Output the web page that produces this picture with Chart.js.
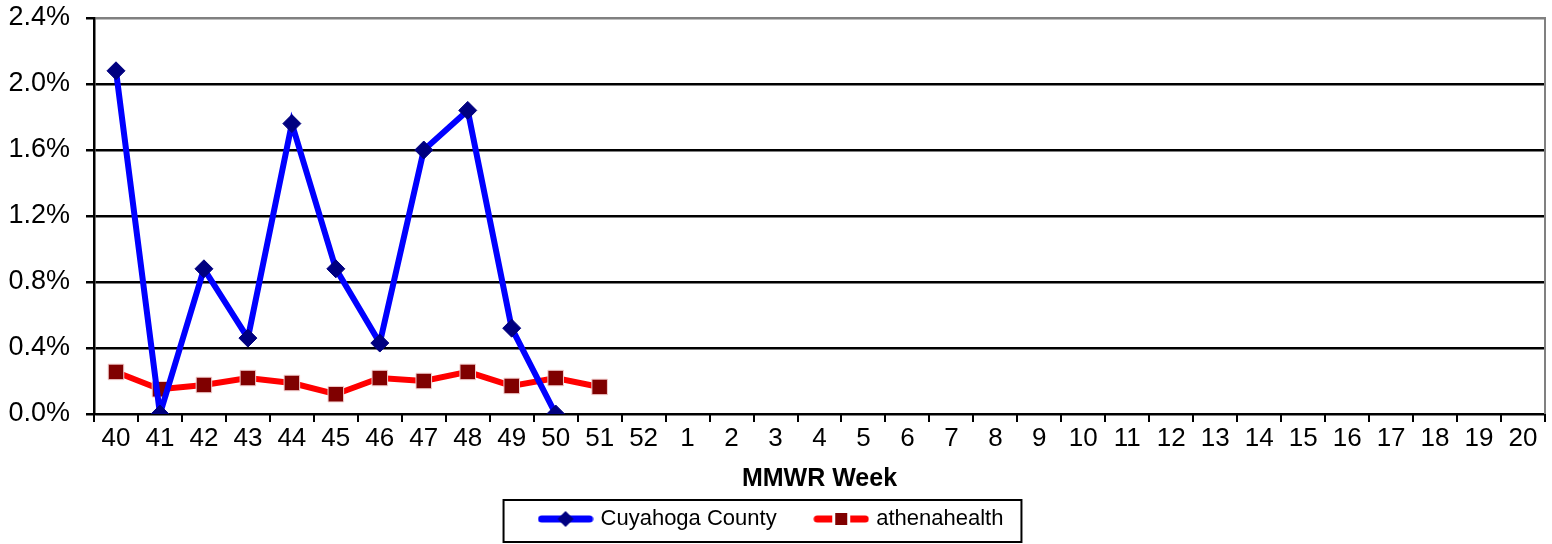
<!DOCTYPE html>
<html>
<head>
<meta charset="utf-8">
<script src="https://cdn.jsdelivr.net/npm/chart.js@4/dist/chart.umd.min.js"></script>
<style>
  html, body { margin: 0; padding: 0; background: #fff; }
  #wrap { width: 1552px; height: 544px; }
</style>
</head>
<body>
<div id="wrap"><canvas id="fluChart" width="1552" height="544"></canvas></div>
<script>
// MMWR weeks 40..52 then 1..20
const weeks = ['40', '41', '42', '43', '44', '45', '46', '47', '48', '49', '50', '51', '52',
    '1', '2', '3', '4', '5', '6', '7', '8', '9', '10', '11', '12', '13', '14', '15', '16', '17', '18', '19', '20'];

// percent values, null = no data yet
const cuyahoga = [2.08, 0.0, 0.88, 0.46, 1.76, 0.88, 0.43, 1.60, 1.84, 0.52, 0.0];
const athena = [0.255, 0.15, 0.176, 0.218, 0.188, 0.12, 0.218, 0.20, 0.255, 0.17, 0.218, 0.164];

const yTicks = { min: 0, max: 2.4, step: 0.4 };

function pad(arr) {
    const out = arr.slice();
    while (out.length < weeks.length) out.push(null);
    return out;
}

// legend samples: line with the marker in the middle
function legendSample(lineColor, drawMarker) {
    const c = document.createElement('canvas');
    c.width = 56;
    c.height = 20;
    const g = c.getContext('2d');
    g.strokeStyle = lineColor;
    g.lineWidth = 7;
    g.lineCap = 'round';
    g.beginPath();
    g.moveTo(4, 10);
    g.lineTo(52, 10);
    g.stroke();
    drawMarker(g, 28, 10);
    return c;
}

const blueSample = legendSample('#0000ff', (g, x, y) => {
    g.fillStyle = '#000080';
    g.beginPath();
    g.moveTo(x, y - 8);
    g.lineTo(x + 8, y);
    g.lineTo(x, y + 8);
    g.lineTo(x - 8, y);
    g.closePath();
    g.fill();
});

const redSample = legendSample('#ff0000', (g, x, y) => {
    g.fillStyle = '#ffffff';
    g.fillRect(x - 9, y - 9, 18, 18);
    g.fillStyle = '#800000';
    g.fillRect(x - 6, y - 6, 12, 12);
});

const frame = {
    id: 'frame',
    afterDraw(chart) {
        const ctx = chart.ctx;
        const a = chart.chartArea;
        ctx.save();
        // right border of plot
        ctx.strokeStyle = '#808080';
        ctx.lineWidth = 2;
        ctx.beginPath();
        ctx.moveTo(a.right, a.top - 1);
        ctx.lineTo(a.right, a.bottom);
        ctx.stroke();
        // box round the legend
        const lg = chart.legend;
        const hb = lg.legendHitBoxes;
        if (hb && hb.length) {
            const last = hb[hb.length - 1];
            const left = hb[0].left - 38;
            const right = last.left + last.width + 18;
            ctx.strokeStyle = '#000';
            ctx.lineWidth = 2;
            ctx.strokeRect(left, lg.top + 2, right - left, lg.bottom - lg.top);
        }
        ctx.restore();
    }
};

Chart.defaults.font.family = '"Liberation Sans", Arial, sans-serif';
Chart.defaults.color = '#000';

const ctx = document.getElementById('fluChart').getContext('2d');
const fluChart = new Chart(ctx, {
    type: 'line',
    data: {
        labels: weeks,
        datasets: [{
            label: 'Cuyahoga County',
            data: pad(cuyahoga),
            borderColor: '#0000ff',
            borderWidth: 6,
            pointStyle: 'rectRot',
            pointRadius: 9,
            pointBackgroundColor: '#000080',
            pointBorderColor: '#000080',
            pointBorderWidth: 1,
            tension: 0,
            spanGaps: false
        }, {
            label: 'athenahealth',
            data: pad(athena),
            borderColor: '#ff0000',
            borderWidth: 6,
            pointStyle: 'rect',
            pointRadius: 11,
            pointBackgroundColor: '#800000',
            pointBorderColor: '#f4d0d0',
            pointBorderWidth: 1,
            tension: 0,
            spanGaps: false
        }]
    },
    options: {
        responsive: false,
        animation: false,
        layout: {
            autoPadding: false,
            padding: { top: 18, right: 7, bottom: 4, left: 0 }
        },
        plugins: {
            legend: {
                position: 'bottom',
                labels: {
                    usePointStyle: true,
                    pointStyleWidth: 48,
                    padding: 10,
                    font: { size: 22 },
                    generateLabels(chart) {
                        return chart.data.datasets.map((ds, i) => ({
                            // trailing spaces widen the gap between the two entries
                            text: i === 0 ? ds.label + '     ' : ds.label,
                            pointStyle: i === 0 ? blueSample : redSample,
                            fillStyle: 'transparent',
                            strokeStyle: 'transparent',
                            lineWidth: 0,
                            hidden: false,
                            datasetIndex: i
                        }));
                    }
                }
            },
            tooltip: { enabled: false }
        },
        scales: {
            x: {
                offset: true,
                grid: {
                    offset: true,
                    drawOnChartArea: false,
                    drawTicks: true,
                    tickLength: 8,
                    color: '#000',
                    lineWidth: 2
                },
                border: { color: '#000', width: 2 },
                ticks: {
                    autoSkip: false,
                    maxRotation: 0,
                    padding: 1,
                    font: { size: 26 }
                },
                title: {
                    display: true,
                    text: 'MMWR Week',
                    font: { size: 25, weight: 'bold' },
                    padding: { top: 0, bottom: 4 }
                },
                afterFit(scale) {
                    scale.height = 84;
                    scale.paddingLeft = 0;
                    scale.paddingRight = 0;
                }
            },
            y: {
                min: yTicks.min,
                max: yTicks.max,
                grid: {
                    color: c => (c.tick && c.tick.value > yTicks.max - 0.01) ? '#808080' : '#000',
                    tickColor: '#000',
                    lineWidth: 2.5,
                    tickLength: 8
                },
                border: { color: '#000', width: 2.5 },
                ticks: {
                    stepSize: yTicks.step,
                    padding: 16,
                    font: { size: 27 },
                    callback: v => v.toFixed(1) + '%'
                },
                afterFit(scale) {
                    scale.width = 94;
                    scale.paddingTop = 0;
                    scale.paddingBottom = 0;
                }
            }
        }
    },
    plugins: [frame]
});
</script>
</body>
</html>
